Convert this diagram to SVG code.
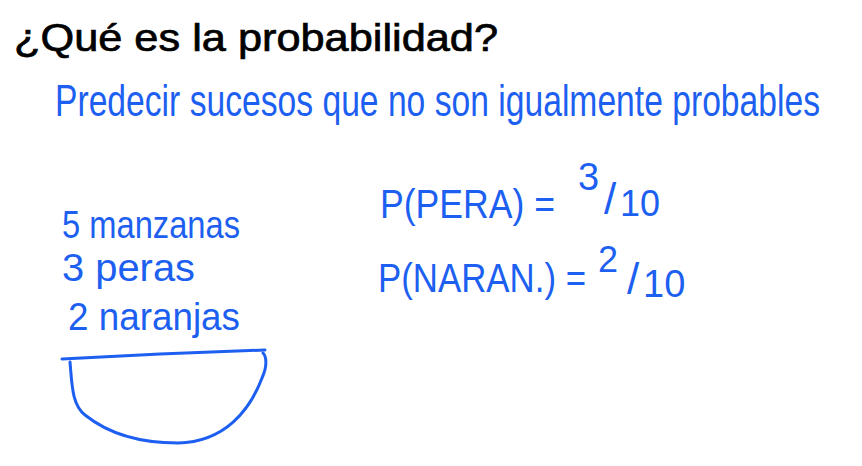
<svg xmlns="http://www.w3.org/2000/svg" width="862" height="466" viewBox="0 0 862 466">
<style>
.t{font-family:"Liberation Sans",Arial,sans-serif;fill:#000;stroke:#000;stroke-width:0.7}
.h{font-family:"Liberation Sans Narrow","Liberation Sans",Arial,sans-serif;fill:#1d5ff0}
.s{fill:none;stroke:#1d5ff0;stroke-width:3;stroke-linecap:round;stroke-linejoin:round}
</style>
<rect width="862" height="466" fill="#fff"/>
<g id="title"><text class="t" x="14" y="51" font-size="38" textLength="484" lengthAdjust="spacingAndGlyphs">¿Qué es la probabilidad?</text></g>
<g id="subtitle"><text class="h" x="55" y="116" font-size="44" textLength="765" lengthAdjust="spacingAndGlyphs">Predecir sucesos que no son igualmente probables</text></g>
<g id="list">
<text class="h" x="62" y="238" font-size="38" textLength="178" lengthAdjust="spacingAndGlyphs">5 manzanas</text>
<text class="h" x="62" y="281" font-size="38" textLength="133" lengthAdjust="spacingAndGlyphs">3 peras</text>
<text class="h" x="68" y="330" font-size="38" textLength="172" lengthAdjust="spacingAndGlyphs">2 naranjas</text>
</g>
<g id="p-pera">
<text class="h" font-size="40"><tspan x="380" y="218" textLength="175" lengthAdjust="spacingAndGlyphs">P(PERA) =</tspan><tspan x="578" y="190" font-size="38">3</tspan><tspan x="604" y="214" font-size="44">/</tspan><tspan x="620" y="216" font-size="36">10</tspan></text>
</g>
<g id="p-naran">
<text class="h" font-size="40"><tspan x="378" y="292" textLength="208" lengthAdjust="spacingAndGlyphs">P(NARAN.) =</tspan><tspan x="598" y="272" font-size="36">2</tspan><tspan x="627" y="294" font-size="44">/</tspan><tspan x="643" y="297" font-size="38">10</tspan></text>
</g>
<g id="bowl">
<path class="s" d="M62 359 L160 354 L265 350"/>
<path class="s" d="M70 362 C72 385 72 405 85 415 C110 435 140 443 178 443 C225 442 250 410 262 378 C268 365 266 356 263 353"/>
</g>
</svg>
